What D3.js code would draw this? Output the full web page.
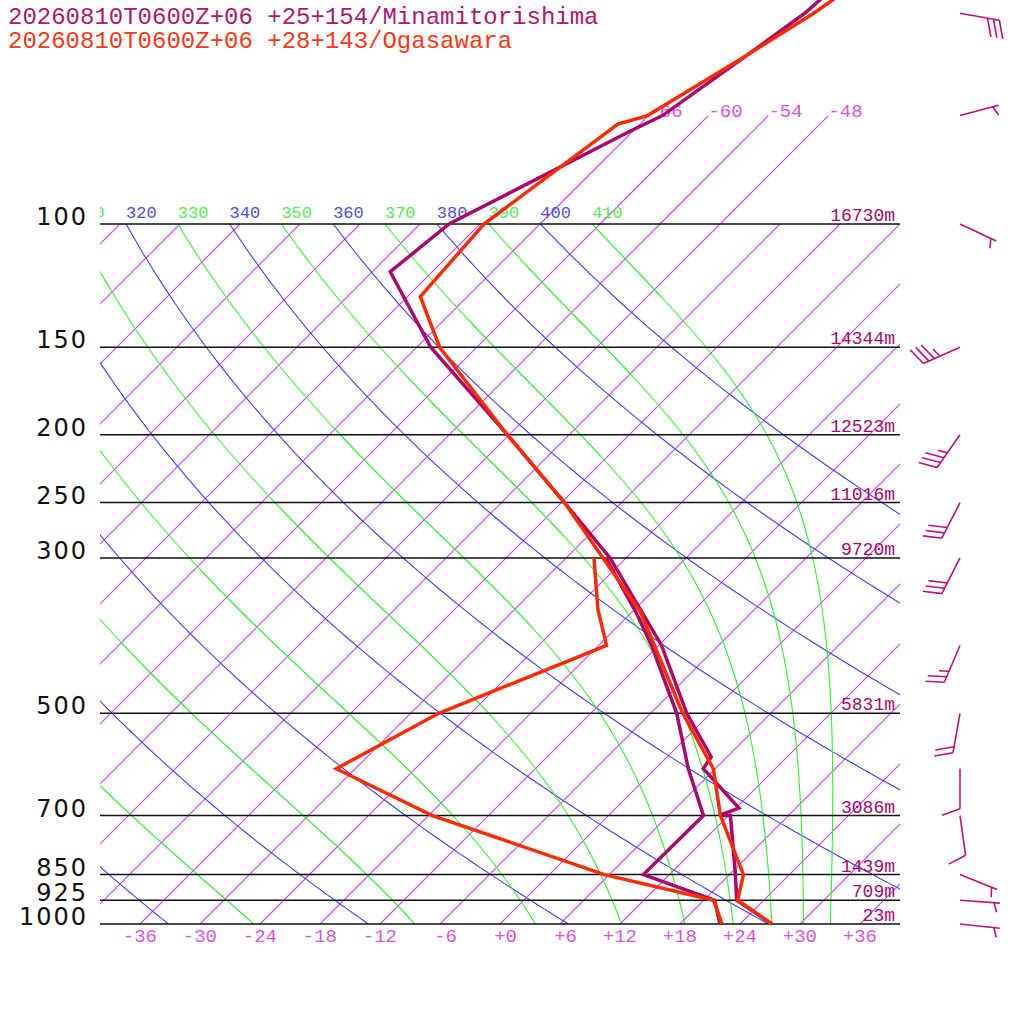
<html>
<script src="https://d3js.org/d3.v7.min.js"></script>
<style> body {margin:0; background:#fff;} </style>
<body>
<svg id="plot" width=1024 height=1024></svg>
<script>
var titles = ["20260810T0600Z+06 +25+154/Minamitorishima", "20260810T0600Z+06 +28+143/Ogasawara"];

var plevels = [1000, 925, 850, 700, 500, 300, 250, 200, 150, 100];
var heights = [23, 709, 1439, 3086, 5831, 9720, 11016, 12523, 14344, 16730];

// Minamitorishima temperature / dewpoint
var minT_p = [1000, 925, 850, 700, 699, 683, 600, 577, 500, 400, 354, 300, 250, 200, 150, 117, 100, 74, 70, 58, 50, 47.7];
var minT_t = [27.2, 21.3, 18.6, 12.2, 11.1, 12.3, 4.8, 4.4, -2.4, -11.7, -17.6, -25.6, -35.7, -48.2, -64.6, -76.2, -75.1, -66.4, -64.6, -62.3, -60.6, -60.4];
var minD_p = [1000, 925, 850, 700, 600, 500, 400, 360, 300];
var minD_t = [22.0, 19.1, 9.4, 9.5, 3.3, -3.4, -12.7, -17.4, -26.0];

// Ogasawara temperature / dewpoint
var ogaT_p = [1000, 925, 850, 700, 600, 500, 358, 300, 250, 200, 150, 127, 100, 72, 70, 58, 50, 47.7];
var ogaT_t = [27.2, 21.4, 19.4, 11.2, 5.8, -2.8, -17.2, -26.3, -35.7, -48.2, -63.7, -70.7, -71.6, -68.2, -66.1, -62.4, -59.7, -59.1];
var ogaD_p = [1000, 925, 850, 700, 600, 500, 400, 356, 300];
var ogaD_t = [22.2, 19.0, 5.5, -17.6, -31.9, -27.2, -17.2, -21.6, -27.2];

// winds (Minamitorishima)
var wind_p = [50, 70, 100, 150, 200, 250, 300, 400, 500, 600, 700, 850, 925, 1000];
var wind_dir = [100, 75, 115, 246, 215, 207, 207, 203, 190, 180, 172, 112, 94, 96];
var wind_kt = [30, 5, 5, 35, 35, 30, 30, 25, 20, 10, 10, 5, 5, 5];

// background lines
var isotherms = d3.range(-108, 37, 6);
var isoLabels = d3.range(-36, 37, 6);
var isoUpper = [-66, -60, -54, -48];
var dryThetas = d3.range(240, 401, 20);
var moistThetas = d3.range(250, 411, 20);

var purple = "#a8086a", red = "#ff2a00";
var isoCol = "rgb(208,64,240)", dryCol = "rgb(64,64,255)", moistCol = "rgb(48,240,48)";

// ---- scales ----
var yScale = d3.scaleLog().domain([1000, 100]).range([924, 224]);
var xScale = d3.scaleLinear().domain([-40, 40]).range([100, 900]);
function sx(t, p) { return xScale(t) + (yScale(1000) - yScale(p)); }
var skewLine = d3.line().x(function(d){ return sx(d[0], d[1]); }).y(function(d){ return yScale(d[1]); });
var kappa = 0.2857;

var svg = d3.select("#plot");
var defs = svg.append("defs");
defs.append("clipPath").attr("id", "area").append("rect").attr("x", 100).attr("y", 224).attr("width", 800).attr("height", 700);
defs.append("clipPath").attr("id", "lab").append("rect").attr("x", 100).attr("y", 0).attr("width", 800).attr("height", 924);

// pseudo-adiabat, integrated down from 100 hPa
function moist(the) {
  var Rd = 287.04, cp = 1005.7, Lv = 2.501e6, eps = 0.622;
  function rs(T, p) { var e = 6.112 * Math.exp(17.67 * (T - 273.15) / (T - 29.65)); return eps * e / (p - e); }
  function g(T, p) { var r = rs(T, p); return (Rd * T + Lv * r) / (cp + Lv * Lv * r * eps / (Rd * T * T)); }
  var T = the * Math.pow(0.1, kappa), h = Math.LN10 / 100, lp = Math.log(100), pts = [];
  for (var i = 0; i <= 100; i++) {
    pts.push([T - 273.15, Math.exp(lp)]);
    var k1 = g(T, Math.exp(lp)), k2 = g(T + h * k1, Math.exp(lp + h));
    T += h * (k1 + k2) / 2; lp += h;
  }
  return pts;
}
function dry(th) {
  return d3.range(100, 1001, 10).map(function(p){ return [th * Math.pow(p / 1000, kappa) - 273.15, p]; });
}
function thetaX(th) { return sx(th * Math.pow(0.1, kappa) - 273.15, 100); }

var grid = svg.append("g").attr("clip-path", "url(#area)");
grid.selectAll("line.iso").data(isotherms).enter().append("line").attr("class", "iso")
  .attr("x1", function(t){ return sx(t, 1000); }).attr("y1", yScale(1000))
  .attr("x2", function(t){ return sx(t, 100); }).attr("y2", yScale(100))
  .attr("stroke", isoCol).attr("stroke-width", 1.1);
grid.selectAll("path.dry").data(dryThetas).enter().append("path").attr("class", "dry")
  .attr("d", function(t){ return skewLine(dry(t)); })
  .attr("fill", "none").attr("stroke", dryCol).attr("stroke-width", 1.1);
grid.selectAll("path.moist").data(moistThetas).enter().append("path").attr("class", "moist")
  .attr("d", function(t){ return skewLine(moist(t)); })
  .attr("fill", "none").attr("stroke", moistCol).attr("stroke-width", 1.1);

// isotherms continued above 100 hPa
svg.selectAll("line.isoup").data(isoUpper).enter().append("line").attr("class", "isoup")
  .attr("x1", function(t){ return sx(t, 100); }).attr("y1", yScale(100))
  .attr("x2", function(t){ return sx(t, 70); }).attr("y2", yScale(70))
  .attr("stroke", isoCol).attr("stroke-width", 1.1);
svg.selectAll("text.isouplab").data(isoUpper).enter().append("text").attr("class", "isouplab")
  .attr("x", function(t){ return sx(t, 70); }).attr("y", yScale(70) + 1)
  .attr("font-family", "Liberation Mono").attr("font-size", 19).attr("fill", "#dd55dd")
  .text(function(t){ return t; });

// theta labels along 100 hPa (partly hidden at the left edge)
var tl = svg.append("g").attr("clip-path", "url(#lab)");
tl.selectAll("text.dl").data(dryThetas.filter(function(t){ return thetaX(t) > 75; })).enter().append("text").attr("class", "dl")
  .attr("x", thetaX).attr("y", 218)
  .attr("font-family", "Liberation Mono").attr("font-size", 17).attr("fill", "#5050f0")
  .text(function(t){ return t; });
tl.selectAll("text.ml").data(moistThetas.filter(function(t){ return thetaX(t) > 70; })).enter().append("text").attr("class", "ml")
  .attr("x", thetaX).attr("y", 218)
  .attr("font-family", "Liberation Mono").attr("font-size", 17).attr("fill", "#55ee55")
  .text(function(t){ return t; });

// pressure lines and labels
svg.selectAll("line.pl").data(plevels).enter().append("line").attr("class", "pl")
  .attr("x1", 100).attr("x2", 900).attr("y1", function(p){ return yScale(p); }).attr("y2", function(p){ return yScale(p); })
  .attr("stroke", "#111").attr("stroke-width", 1.5);
svg.selectAll("text.plab").data(plevels).enter().append("text").attr("class", "plab")
  .attr("x", 88).attr("y", function(p){ return yScale(p) + 1; }).attr("text-anchor", "end")
  .attr("font-family", "DejaVu Sans").attr("font-size", 24).attr("letter-spacing", 2).attr("fill", "#111")
  .text(function(p){ return p; });
svg.selectAll("text.hlab").data(plevels).enter().append("text").attr("class", "hlab")
  .attr("x", 895).attr("y", function(p){ return yScale(p) - 3; }).attr("text-anchor", "end")
  .attr("font-family", "Liberation Mono").attr("font-size", 18).attr("fill", purple)
  .text(function(p, i){ return heights[i] + "m"; });

// bottom temperature labels
svg.selectAll("text.tlab").data(isoLabels).enter().append("text").attr("class", "tlab")
  .attr("x", function(t){ return xScale(t) + 17; }).attr("y", 942).attr("text-anchor", "end")
  .attr("font-family", "Liberation Mono").attr("font-size", 19).attr("fill", "#dd55dd")
  .text(function(t){ return (t < 0 ? "-" : "+") + Math.abs(t); });

// profiles
function prof(ps, ts, col) {
  svg.append("path").attr("d", skewLine(ps.map(function(p, i){ return [ts[i], p]; })))
    .attr("stroke", col).attr("stroke-width", 3.5).attr("fill", "none");
}
prof(minT_p, minT_t, purple);
prof(minD_p, minD_t, purple);
prof(ogaT_p, ogaT_t, red);
prof(ogaD_p, ogaD_t, red);

// wind barbs
var bg = svg.append("g").attr("stroke", "#c0107a").attr("stroke-width", 1.6).attr("fill", "none");
wind_p.forEach(function(p, i) {
  var cx = 960, cy = yScale(p), a = wind_dir[i] * Math.PI / 180;
  var dx = Math.sin(a), dy = -Math.cos(a);
  var ex = cx + 40 * dx, ey = cy + 40 * dy;
  var fa = 70 * Math.PI / 180;
  var fx = dx * Math.cos(fa) - dy * Math.sin(fa), fy = dx * Math.sin(fa) + dy * Math.cos(fa);
  bg.append("line").attr("x1", cx).attr("y1", cy).attr("x2", ex).attr("y2", ey);
  var n = Math.floor(wind_kt[i] / 10), half = wind_kt[i] % 10 >= 5, pos = 0;
  for (var k = 0; k < n; k++) {
    var bx = ex - pos * 6 * dx, by = ey - pos * 6 * dy;
    bg.append("line").attr("x1", bx).attr("y1", by).attr("x2", bx + 19 * fx).attr("y2", by + 19 * fy);
    pos++;
  }
  if (half) {
    if (n == 0) pos = 1;
    var hx = ex - pos * 6 * dx, hy = ey - pos * 6 * dy;
    bg.append("line").attr("x1", hx).attr("y1", hy).attr("x2", hx + 10 * fx).attr("y2", hy + 10 * fy);
  }
});

// titles
svg.append("text").attr("x", 8).attr("y", 24).attr("font-family", "Liberation Mono").attr("font-size", 24)
  .attr("fill", "#b0186f").text(titles[0]);
svg.append("text").attr("x", 8).attr("y", 48).attr("font-family", "Liberation Mono").attr("font-size", 24)
  .attr("fill", "#ff3814").text(titles[1]);
</script>
</body>
</html>
